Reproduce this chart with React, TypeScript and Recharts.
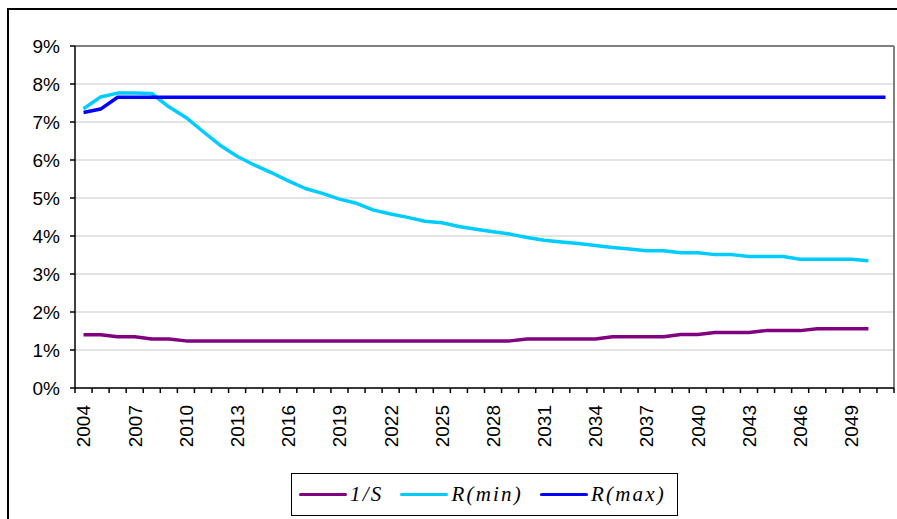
import { CartesianGrid, Legend, Line, LineChart, ReferenceLine, XAxis, YAxis } from "recharts";

const YEARS = [
  2004, 2005, 2006, 2007, 2008, 2009, 2010, 2011, 2012, 2013, 2014, 2015,
  2016, 2017, 2018, 2019, 2020, 2021, 2022, 2023, 2024, 2025, 2026, 2027,
  2028, 2029, 2030, 2031, 2032, 2033, 2034, 2035, 2036, 2037, 2038, 2039,
  2040, 2041, 2042, 2043, 2044, 2045, 2046, 2047, 2048, 2049, 2050, 2051,
];
const LABEL_YEARS = [2004, 2007, 2010, 2013, 2016, 2019, 2022, 2025, 2028, 2031, 2034, 2037, 2040, 2043, 2046, 2049];
const PCT_TICKS = [0, 1, 2, 3, 4, 5, 6, 7, 8, 9];

// values in percent
const INV_S = [
  1.4, 1.4, 1.35, 1.35, 1.29, 1.29,
  1.24, 1.24, 1.24, 1.24, 1.24, 1.24, 1.24, 1.24, 1.24, 1.24,
  1.24, 1.24, 1.24, 1.24, 1.24, 1.24, 1.24, 1.24, 1.24, 1.24,
  1.29, 1.29, 1.29, 1.29, 1.29,
  1.35, 1.35, 1.35, 1.35,
  1.41, 1.41,
  1.46, 1.46, 1.46,
  1.51, 1.51, 1.51,
  1.56, 1.56, 1.56, 1.56,
];
const R_MIN = [
  7.35, 7.66, 7.76, 7.76, 7.75, 7.4, 7.12, 6.75, 6.39, 6.1, 5.87, 5.67,
  5.45, 5.25, 5.12, 4.97, 4.86, 4.68, 4.58, 4.49, 4.39, 4.35, 4.25, 4.18,
  4.11, 4.05, 3.96, 3.89, 3.84, 3.8, 3.75, 3.7, 3.66, 3.61, 3.61, 3.56,
  3.56, 3.51, 3.51, 3.46, 3.46, 3.46, 3.39, 3.39, 3.39, 3.39, 3.35,
];
const R_MAX = [
  7.25, 7.34, 7.65, 7.65, 7.65, 7.65, 7.65, 7.65, 7.65, 7.65, 7.65, 7.65,
  7.65, 7.65, 7.65, 7.65, 7.65, 7.65, 7.65, 7.65, 7.65, 7.65, 7.65, 7.65,
  7.65, 7.65, 7.65, 7.65, 7.65, 7.65, 7.65, 7.65, 7.65, 7.65, 7.65, 7.65,
  7.65, 7.65, 7.65, 7.65, 7.65, 7.65, 7.65, 7.65, 7.65, 7.65, 7.65, 7.65,
];

const SERIES = [
  { key: "invS", name: "1/S", color: "#800080" },
  { key: "rMin", name: "R(min)", color: "#00ccff" },
  { key: "rMax", name: "R(max)", color: "#0000ff" },
];

const data = YEARS.map((year, i) => ({
  year,
  invS: INV_S[i] ?? null,
  rMin: R_MIN[i] ?? null,
  rMax: R_MAX[i] ?? null,
}));

// tick marks sit on the category boundaries, labels on the category centres
const first = YEARS[0] - 0.5;
const last = YEARS[YEARS.length - 1] + 0.5;
const BOUNDARIES = [first, ...YEARS.map((y) => y + 0.5)];
const X_TICKS = [...BOUNDARIES, ...LABEL_YEARS].sort((a, b) => a - b);

const SANS = "Liberation Sans, Arial, sans-serif";
const SERIF = "Liberation Serif, DejaVu Serif, serif";

function YearTick({ x, y, payload }: { x?: number; y?: number; payload?: { value: number } }) {
  if (x == null || y == null || !payload) return null;
  const v = payload.value;
  if (!Number.isInteger(v)) {
    return <line x1={x} x2={x} y1={y - 5} y2={y} stroke="#000" strokeWidth={1.5} />;
  }
  return (
    <text
      transform={`translate(${x},${y + 12}) rotate(-90)`}
      textAnchor="end"
      dy="0.36em"
      fontSize={19}
      fontFamily={SANS}
      fill="#000"
    >
      {v}
    </text>
  );
}

function LegendBox() {
  return (
    <div
      style={{
        boxSizing: "border-box",
        width: 387,
        height: 43,
        border: "1px solid #000",
        background: "#fff",
        display: "flex",
        alignItems: "center",
        paddingLeft: 7,
      }}
    >
      {SERIES.map((s) => (
        <div key={s.key} style={{ display: "flex", alignItems: "center", marginRight: 17 }}>
          <div style={{ width: 48, height: 3.5, background: s.color, borderRadius: 2 }} />
          <span
            style={{
              marginLeft: 3,
              fontFamily: SERIF,
              fontStyle: "italic",
              fontSize: 21,
              letterSpacing: 2.2,
              color: "#000",
            }}
          >
            {s.name}
          </span>
        </div>
      ))}
    </div>
  );
}

export default function App() {
  return (
    <div
      style={{
        position: "absolute",
        left: 0,
        top: 0,
        width: 897,
        height: 519,
        overflow: "hidden",
        background: "#fff",
      }}
    >
      <div
        style={{
          position: "absolute",
          left: 7,
          top: 8,
          width: 1000,
          height: 1000,
          border: "2px solid #000",
        }}
      />
      <LineChart
        width={897}
        height={519}
        data={data}
        margin={{ top: 46, right: 3, left: 0, bottom: 3 }}
      >
        <CartesianGrid vertical={false} stroke="#c8c8c8" />
        <XAxis
          dataKey="year"
          type="number"
          domain={[first, last]}
          ticks={X_TICKS}
          interval={0}
          height={85}
          tickSize={5}
          tickMargin={0}
          tickLine={false}
          axisLine={{ stroke: "#000", strokeWidth: 1.5 }}
          tick={<YearTick />}
        />
        <YAxis
          type="number"
          domain={[0, 9]}
          ticks={PCT_TICKS}
          width={75}
          tickSize={5}
          tickMargin={10}
          tickLine={{ stroke: "#000", strokeWidth: 1.5 }}
          axisLine={{ stroke: "#000", strokeWidth: 1.5 }}
          tick={{ fontSize: 19, fill: "#000", fontFamily: SANS }}
          tickFormatter={(v: number) => `${v}%`}
        />
        <ReferenceLine y={9} stroke="#808080" strokeWidth={2} />
        <ReferenceLine x={last} stroke="#808080" strokeWidth={2} />
        <Legend
          verticalAlign="bottom"
          align="left"
          content={() => <LegendBox />}
          wrapperStyle={{ left: 291, width: 387, height: 43 }}
        />
        {SERIES.map((s) => (
          <Line
            key={s.key}
            type="linear"
            dataKey={s.key}
            name={s.name}
            stroke={s.color}
            strokeWidth={3.5}
            strokeLinejoin="round"
            dot={false}
            activeDot={false}
            isAnimationActive={false}
          />
        ))}
      </LineChart>
    </div>
  );
}
